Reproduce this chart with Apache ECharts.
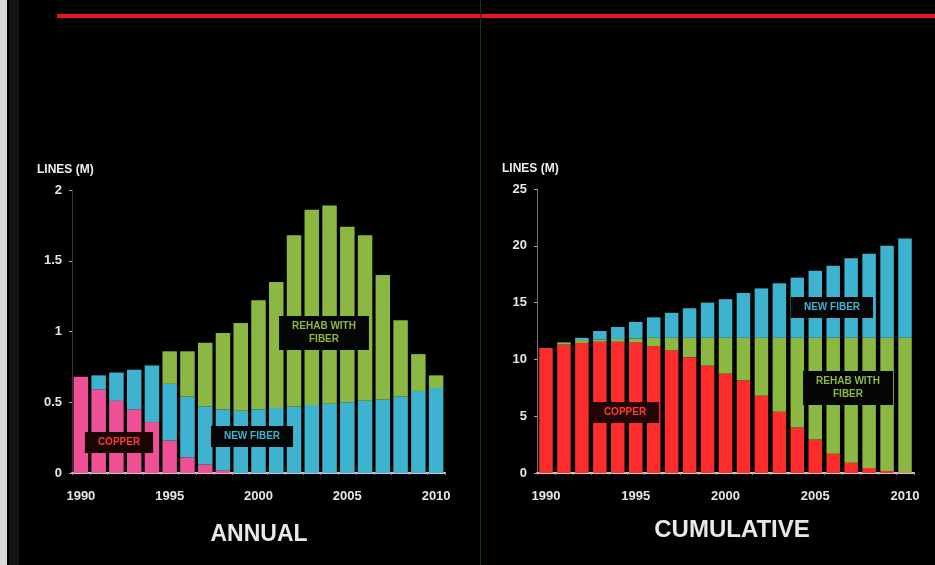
<!DOCTYPE html>
<html>
<head>
<meta charset="utf-8">
<script src="https://cdn.jsdelivr.net/npm/echarts@6/dist/echarts.min.js"></script>
<style>
  html, body { margin: 0; padding: 0; background: #000; }
  #main { width: 935px; height: 565px; }
</style>
</head>
<body>
<div id="main"></div>
<script>
// years 1990 - 2010
const years = ['1990', '1991', '1992', '1993', '1994', '1995', '1996', '1997', '1998', '1999', '2000',
  '2001', '2002', '2003', '2004', '2005', '2006', '2007', '2008', '2009', '2010'];

// annual (lines, millions)
const annualCopper = [0.68, 0.59, 0.51, 0.45, 0.36, 0.23, 0.11, 0.06, 0.02, 0, 0,
  0, 0, 0, 0, 0, 0, 0, 0, 0, 0];
const annualNewFiber = [0, 0.10, 0.20, 0.28, 0.40, 0.40, 0.43, 0.41, 0.43, 0.44, 0.45,
  0.46, 0.47, 0.48, 0.49, 0.50, 0.51, 0.52, 0.54, 0.58, 0.60];
const annualRehab = [0, 0, 0, 0, 0, 0.23, 0.32, 0.45, 0.54, 0.62, 0.77,
  0.89, 1.21, 1.38, 1.40, 1.24, 1.17, 0.88, 0.54, 0.26, 0.09];

// cumulative (lines, millions)
const cumCopper = [11.0, 11.3, 11.45, 11.55, 11.55, 11.5, 11.15, 10.8, 10.2, 9.45, 8.75,
  8.15, 6.8, 5.4, 4.0, 2.95, 1.7, 0.9, 0.45, 0.18, 0.05];
const cumRehab = [0, 0.2, 0.25, 0.2, 0.25, 0.35, 0.75, 1.1, 1.7, 2.45, 3.15,
  3.75, 5.1, 6.5, 7.9, 8.95, 10.2, 11.0, 11.45, 11.72, 11.85];
const cumNewFiber = [0, 0, 0.2, 0.75, 1.05, 1.45, 1.8, 2.2, 2.6, 3.1, 3.4,
  3.95, 4.35, 4.8, 5.3, 5.9, 6.35, 7.0, 7.4, 8.1, 8.75];

const annualTicks = { min: 0, max: 2, interval: 0.5 };
const cumTicks = { min: 0, max: 25, interval: 5 };

const PINK = '#ee5096';
const CYAN = '#3db3cf';
const GREEN = '#8bb842';
const RED = '#ff2c2c';

const labelFont = 'Liberation Sans, Arial, sans-serif';

function xAxisFor(gridIndex) {
  return {
    type: 'category',
    gridIndex: gridIndex,
    data: years,
    axisLine: { lineStyle: { color: '#cfc3cc', width: 2 } },
    axisTick: { show: true, interval: 0, length: 2, lineStyle: { color: '#9a8f98' } },
    axisLabel: {
      interval: 4, color: '#e6e6e6', fontSize: 13, fontWeight: 'bold',
      fontFamily: labelFont, margin: 17
    },
    splitLine: { show: false }
  };
}

function yAxisFor(gridIndex, ticks, lineColor) {
  return {
    type: 'value',
    gridIndex: gridIndex,
    min: ticks.min,
    max: ticks.max,
    interval: ticks.interval,
    name: 'LINES (M)',
    nameLocation: 'end',
    nameGap: 14,
    nameTextStyle: {
      color: '#eeeeee', fontSize: 12, fontWeight: 'bold', fontFamily: labelFont,
      align: 'left', padding: [0, 0, 0, -35]
    },
    axisLine: { show: true, lineStyle: { color: lineColor, width: 1 } },
    axisTick: { show: true, length: 3, lineStyle: { color: '#aaaaaa' } },
    axisLabel: { color: '#e6e6e6', fontSize: 13, fontWeight: 'bold', fontFamily: labelFont, margin: 10 },
    splitLine: { show: false }
  };
}

function bar(name, data, color, axisIndex, width) {
  return {
    name: name,
    type: 'bar',
    stack: 'total' + axisIndex,
    xAxisIndex: axisIndex,
    yAxisIndex: axisIndex,
    data: data,
    barWidth: width,
    itemStyle: { color: color },
    emphasis: { disabled: true }
  };
}

// label box centred on (cx, top)
function boxText(cx, top, text, color, bg) {
  return {
    type: 'text',
    x: cx,
    y: top,
    z: 100,
    style: {
      text: text,
      fill: color,
      font: 'bold 10px ' + labelFont,
      align: 'center',
      verticalAlign: 'top',
      lineHeight: 13,
      backgroundColor: bg || '#050505',
      padding: [4, 13, 4, 13]
    }
  };
}

const chart = echarts.init(document.getElementById('main'));

chart.setOption({
  backgroundColor: '#000000',
  animation: false,
  grid: [
    { left: 72, top: 190, width: 373, height: 283 },
    { left: 537, top: 189, width: 377, height: 284 }
  ],
  xAxis: [xAxisFor(0), xAxisFor(1)],
  yAxis: [yAxisFor(0, annualTicks, '#3c3036'), yAxisFor(1, cumTicks, '#8a6f78')],
  series: [
    bar('Copper', annualCopper, PINK, 0, 14.5),
    bar('New fiber', annualNewFiber, CYAN, 0, 14.5),
    bar('Rehab with fiber', annualRehab, GREEN, 0, 14.5),
    bar('Copper', cumCopper, RED, 1, 13.5),
    bar('Rehab with fiber', cumRehab, GREEN, 1, 13.5),
    bar('New fiber', cumNewFiber, CYAN, 1, 13.5)
  ],
  graphic: [
    // scan edge and slide rule
    { type: 'rect', left: 0, top: 0, shape: { width: 7, height: 565 }, style: { fill: '#d8d8d8' } },
    { type: 'rect', left: 9, top: 0, shape: { width: 10, height: 565 }, style: { fill: '#141414' } },
    { type: 'rect', left: 57, top: 14, shape: { width: 878, height: 4 }, style: { fill: '#e8141e' } },
    { type: 'rect', left: 480, top: 0, shape: { width: 1, height: 565 }, style: { fill: '#143a14' } },
    // series labels
    boxText(119, 432, 'COPPER', '#ff3a3a', '#1a0505'),
    boxText(252, 426, 'NEW FIBER', CYAN),
    boxText(324, 316, 'REHAB WITH\nFIBER', GREEN),
    boxText(832, 297, 'NEW FIBER', CYAN),
    boxText(848, 371, 'REHAB WITH\nFIBER', GREEN),
    boxText(625, 402, 'COPPER', '#ff3a3a', '#240505'),
    // panel titles
    {
      type: 'text', x: 259, y: 523,
      style: { text: 'ANNUAL', fill: '#e8e8e8', font: 'bold 23px ' + labelFont, align: 'center', verticalAlign: 'top' }
    },
    {
      type: 'text', x: 732, y: 518,
      style: { text: 'CUMULATIVE', fill: '#e8e8e8', font: 'bold 24px ' + labelFont, align: 'center', verticalAlign: 'top' }
    }
  ]
});
</script>
</body>
</html>
